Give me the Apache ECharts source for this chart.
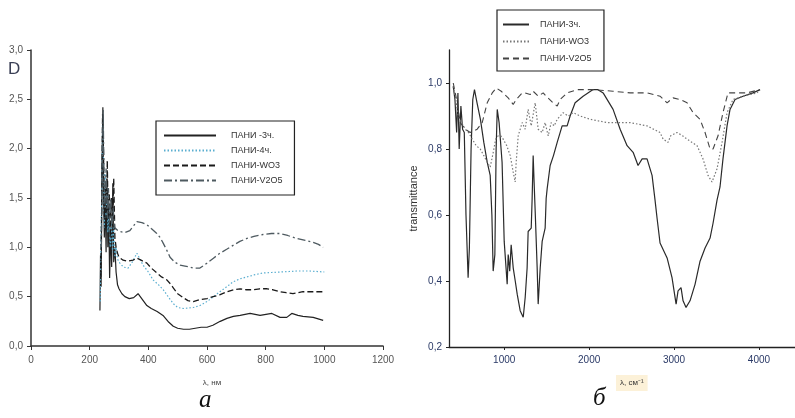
<!DOCTYPE html>
<html><head><meta charset="utf-8">
<script src="https://cdn.jsdelivr.net/npm/echarts@6/dist/echarts.min.js"></script>
<style>html,body{margin:0;padding:0;background:#fff}#c{width:795px;height:418px}</style>
</head><body><div id="c"></div>
<script>
// ---- Panel a (absorbance D vs wavelength, nm) ----
const aNames = ['ПАНИ -3ч.', 'ПАНИ-4ч.', 'ПАНИ-WO3', 'ПАНИ-V2O5'];
const a3h = [[235,0.36],[237,0.92],[239,0.6],[242,1.8],[245,2.42],[247,1.6],[250,1.1],[253,1.5],[256,0.95],[259,1.7],[262,1.0],[265,1.4],[268,0.69],[272,1.2],[275,0.8],[279,1.65],[282,0.85],[286,1.0],[290,0.75],[295,0.62],[300,0.58],[310,0.53],[320,0.5],[335,0.48],[350,0.49],[365,0.53],[380,0.47],[395,0.41],[410,0.38],[430,0.35],[450,0.31],[470,0.24],[485,0.2],[500,0.18],[520,0.17],[540,0.17],[560,0.18],[580,0.19],[600,0.19],[620,0.21],[645,0.25],[668,0.28],[690,0.3],[713,0.31],[747,0.33],[781,0.31],[821,0.33],[849,0.29],[872,0.29],[889,0.33],[910,0.31],[927,0.30],[962,0.29],[996,0.26]];
const a4h = [[236,0.45],[238,1.0],[241,1.5],[244,2.3],[247,1.9],[250,1.2],[253,1.75],[256,1.3],[259,1.6],[262,1.15],[266,1.4],[270,1.0],[274,1.3],[278,0.95],[282,1.2],[286,0.9],[290,1.0],[295,0.88],[303,0.84],[315,0.8],[331,0.79],[345,0.85],[361,0.94],[382,0.82],[400,0.75],[416,0.67],[435,0.62],[451,0.57],[470,0.49],[485,0.43],[500,0.39],[520,0.38],[553,0.39],[576,0.41],[600,0.45],[622,0.5],[644,0.55],[667,0.6],[689,0.65],[712,0.68],[736,0.7],[760,0.72],[791,0.74],[820,0.745],[849,0.75],[880,0.755],[906,0.76],[950,0.76],[1000,0.75]];
const aWO3 = [[238,0.7],[241,1.4],[244,2.35],[247,2.0],[250,1.3],[254,1.6],[257,1.2],[260,1.88],[263,1.3],[267,1.55],[270,1.1],[274,1.5],[278,1.2],[282,1.7],[286,1.1],[290,1.0],[295,0.94],[300,0.9],[314,0.87],[330,0.86],[348,0.87],[361,0.89],[375,0.87],[395,0.84],[410,0.79],[429,0.74],[445,0.7],[463,0.67],[475,0.63],[485,0.59],[500,0.53],[519,0.49],[535,0.46],[553,0.45],[576,0.47],[600,0.48],[621,0.5],[645,0.52],[668,0.55],[690,0.57],[713,0.58],[735,0.57],[757,0.57],[780,0.58],[805,0.58],[825,0.57],[849,0.55],[870,0.54],[893,0.53],[910,0.54],[927,0.55],[960,0.55],[996,0.55]];
const aV2O5 = [[240,1.0],[243,1.9],[246,2.4],[249,1.7],[252,1.4],[256,1.8],[260,1.3],[264,1.6],[268,1.25],[272,1.5],[276,1.2],[280,1.4],[285,1.2],[290,1.22],[296,1.17],[303,1.16],[320,1.15],[337,1.17],[350,1.22],[361,1.26],[378,1.25],[395,1.23],[410,1.19],[429,1.14],[440,1.1],[451,1.04],[463,0.97],[474,0.9],[490,0.85],[508,0.82],[525,0.81],[542,0.8],[553,0.79],[576,0.79],[600,0.84],[622,0.89],[644,0.94],[667,0.98],[689,1.02],[712,1.06],[736,1.09],[760,1.11],[791,1.13],[820,1.14],[849,1.14],[875,1.12],[906,1.09],[935,1.07],[962,1.05],[980,1.03],[996,1.0]];

// ---- Panel b (transmittance vs wavenumber, cm-1) ----
const bNames = ['ПАНИ-3ч.', 'ПАНИ-WO3 ', 'ПАНИ-V2O5 '];
const b3h = [[400,0.99],[420,0.95],[440,0.85],[455,0.97],[470,0.80],[490,0.93],[510,0.86],[530,0.85],[550,0.60],[575,0.41],[590,0.50],[610,0.80],[630,0.95],[650,0.98],[680,0.94],[720,0.89],[760,0.82],[800,0.76],[835,0.72],[855,0.60],[870,0.43],[890,0.48],[905,0.80],[918,0.92],[940,0.88],[975,0.76],[1000,0.52],[1035,0.39],[1047,0.48],[1065,0.43],[1082,0.51],[1106,0.44],[1130,0.40],[1153,0.36],[1188,0.31],[1224,0.29],[1247,0.35],[1270,0.44],[1282,0.55],[1318,0.56],[1329,0.65],[1341,0.78],[1352,0.70],[1365,0.61],[1388,0.44],[1400,0.33],[1424,0.44],[1447,0.52],[1482,0.56],[1494,0.65],[1506,0.68],[1541,0.75],[1580,0.78],[1624,0.82],[1682,0.87],[1741,0.87],[1776,0.90],[1835,0.94],[1929,0.96],[2047,0.98],[2100,0.98],[2165,0.97],[2282,0.92],[2365,0.86],[2447,0.81],[2518,0.79],[2576,0.75],[2624,0.77],[2682,0.77],[2741,0.72],[2776,0.645],[2800,0.59],[2835,0.515],[2918,0.47],[2976,0.41],[3024,0.33],[3047,0.37],[3082,0.38],[3106,0.34],[3141,0.32],[3188,0.34],[3247,0.39],[3306,0.46],[3365,0.50],[3424,0.53],[3459,0.575],[3506,0.645],[3541,0.685],[3576,0.77],[3624,0.87],[3659,0.92],[3718,0.95],[3812,0.96],[3929,0.97],[4012,0.98]];
const bWO3 = [[400,0.99],[430,0.95],[459,0.90],[500,0.88],[541,0.86],[580,0.85],[624,0.83],[670,0.81],[718,0.80],[760,0.78],[800,0.76],[835,0.745],[871,0.79],[900,0.83],[929,0.84],[960,0.84],[988,0.83],[1030,0.81],[1071,0.78],[1106,0.73],[1129,0.70],[1141,0.76],[1165,0.84],[1212,0.88],[1247,0.86],[1282,0.92],[1318,0.87],[1365,0.94],[1400,0.86],[1447,0.85],[1482,0.88],[1518,0.84],[1553,0.88],[1588,0.87],[1624,0.89],[1694,0.91],[1753,0.90],[1812,0.91],[1894,0.90],[2012,0.89],[2212,0.88],[2482,0.88],[2682,0.87],[2835,0.85],[2871,0.83],[2929,0.82],[2960,0.84],[3035,0.85],[3100,0.84],[3153,0.83],[3271,0.81],[3341,0.77],[3400,0.72],[3447,0.70],[3506,0.74],[3565,0.82],[3624,0.91],[3694,0.95],[3812,0.96],[3976,0.97],[4012,0.98]];
const bV2O5 = [[400,1.0],[447,0.94],[482,0.88],[541,0.86],[600,0.85],[682,0.86],[741,0.88],[800,0.94],[859,0.97],[906,0.985],[965,0.975],[1047,0.955],[1106,0.935],[1141,0.95],[1212,0.97],[1247,0.97],[1306,0.965],[1341,0.975],[1400,0.96],[1459,0.97],[1494,0.96],[1576,0.94],[1624,0.93],[1659,0.95],[1741,0.97],[1859,0.98],[2047,0.98],[2282,0.975],[2482,0.97],[2682,0.97],[2835,0.96],[2918,0.94],[2988,0.955],[3071,0.95],[3153,0.94],[3224,0.91],[3306,0.89],[3365,0.85],[3424,0.80],[3459,0.80],[3518,0.84],[3576,0.91],[3635,0.97],[3741,0.97],[3859,0.97],[4012,0.98]];

const bXTicks = [1000, 2000, 3000, 4000];
const bYTicks = [0.2, 0.4, 0.6, 0.8, 1.0];

const comma = v => v.toFixed(1).replace('.', ',');
const plain = v => String(v);
const FONT = "'Liberation Sans', Arial, sans-serif";
const NARROW = "'Liberation Sans Narrow', 'Liberation Sans', sans-serif";

const chart = echarts.init(document.getElementById('c'), null, {renderer: 'canvas'});

function ln(name, data, xi, color, type, width) {
  return {
    name, type: 'line', data, xAxisIndex: xi, yAxisIndex: xi,
    symbol: 'none', showSymbol: false, animation: false,
    lineStyle: {color, type, width}, itemStyle: {color},
    emphasis: {disabled: true}
  };
}

const axisLineA = {show: true, lineStyle: {color: '#333', width: 1.5}};
const axisLineB = {show: true, lineStyle: {color: '#222', width: 1.3}};
const noSym = {color: 'rgba(0,0,0,0)', borderColor: 'rgba(0,0,0,0)', borderWidth: 0};

chart.setOption({
  backgroundColor: '#fff',
  animation: false,
  textStyle: {fontFamily: FONT},
  grid: [
    {left: 31, right: 412, top: 50, bottom: 72},
    {left: 449, right: 0, top: 50, bottom: 71}
  ],
  xAxis: [
    {gridIndex: 0, type: 'value', min: 0, max: 1200, interval: 200,
     axisLine: axisLineA, axisTick: {show: true, length: 4, lineStyle: {color: '#333'}},
     splitLine: {show: false},
     axisLabel: {color: '#555', fontSize: 10, margin: 9, fontFamily: FONT, formatter: plain},
     name: 'λ, нм', nameLocation: 'middle', nameGap: 33,
     nameTextStyle: {fontSize: 8, color: '#444', padding: [0, 0, 0, 10]}},
    {gridIndex: 1, type: 'value', min: 350, max: 4424,
     axisLine: axisLineB,
     axisTick: {show: true, length: 3, customValues: bXTicks, lineStyle: {color: '#222'}},
     splitLine: {show: false},
     axisLabel: {color: '#2b3a67', fontSize: 10, margin: 8, customValues: bXTicks, fontFamily: FONT, formatter: plain}}
  ],
  yAxis: [
    {gridIndex: 0, type: 'value', min: 0, max: 3, interval: 0.5,
     axisLine: axisLineA, axisTick: {show: true, length: 4, lineStyle: {color: '#333'}},
     splitLine: {show: false},
     axisLabel: {color: '#555', fontSize: 10, margin: 8, formatter: comma, fontFamily: FONT}},
    {gridIndex: 1, type: 'value', min: 0.2, max: 1.1,
     axisLine: axisLineB,
     axisTick: {show: true, length: 3, customValues: bYTicks, lineStyle: {color: '#222'}},
     splitLine: {show: false},
     axisLabel: {color: '#2b3a67', fontSize: 10, margin: 7, customValues: bYTicks, formatter: comma, fontFamily: FONT},
     name: 'transmittance', nameLocation: 'middle', nameRotate: 90, nameGap: 30,
     nameTextStyle: {fontSize: 11, color: '#333'}}
  ],
  legend: [
    {data: aNames, orient: 'vertical', left: 156, top: 121,
     padding: [10, 12, 10, 7], itemGap: 6, itemWidth: 52, itemHeight: 10,
     borderColor: '#222', borderWidth: 1.2, selectedMode: false, itemStyle: noSym,
     textStyle: {fontSize: 9, color: '#333', fontFamily: NARROW, padding: [0, 0, 0, 10]}},
    {data: bNames, orient: 'vertical', left: 497, top: 10,
     padding: [10, 10, 8, 5], itemGap: 8, itemWidth: 26, itemHeight: 10,
     borderColor: '#222', borderWidth: 1.2, selectedMode: false, itemStyle: noSym,
     textStyle: {fontSize: 9, color: '#333', fontFamily: NARROW, padding: [0, 0, 0, 6]}}
  ],
  series: [
    ln(aNames[0], a3h, 0, '#222', 'solid', 1.2),
    ln(aNames[1], a4h, 0, '#5aaed0', [1.5, 2], 1.2),
    ln(aNames[2], aWO3, 0, '#1a1a1a', [6, 3], 1.3),
    ln(aNames[3], aV2O5, 0, '#4e5a60', [8, 3, 2, 3], 1.3),
    ln(bNames[0], b3h, 1, '#2a2a2a', 'solid', 1.2),
    ln(bNames[1], bWO3, 1, '#777', [1.5, 2], 1.2),
    ln(bNames[2], bV2O5, 1, '#444', [6, 4], 1.1)
  ],
  graphic: [
    {type: 'text', left: 8, top: 61, style: {text: 'D', fontSize: 17, fill: '#3a3f55', fontFamily: FONT}},
    {type: 'text', left: 616, top: 375, style: {text: 'λ, см⁻¹', fontSize: 8, fill: '#333', fontFamily: FONT, backgroundColor: '#fcf1d8', padding: [4, 4, 4, 4]}},
    {type: 'text', left: 199, top: 388, style: {text: 'а', fontSize: 25, fill: '#111', fontFamily: "'Liberation Serif', serif", fontStyle: 'italic'}},
    {type: 'text', left: 593, top: 386, style: {text: 'б', fontSize: 25, fill: '#111', fontFamily: "'Liberation Serif', serif", fontStyle: 'italic'}}
  ]
});
</script></body></html>
